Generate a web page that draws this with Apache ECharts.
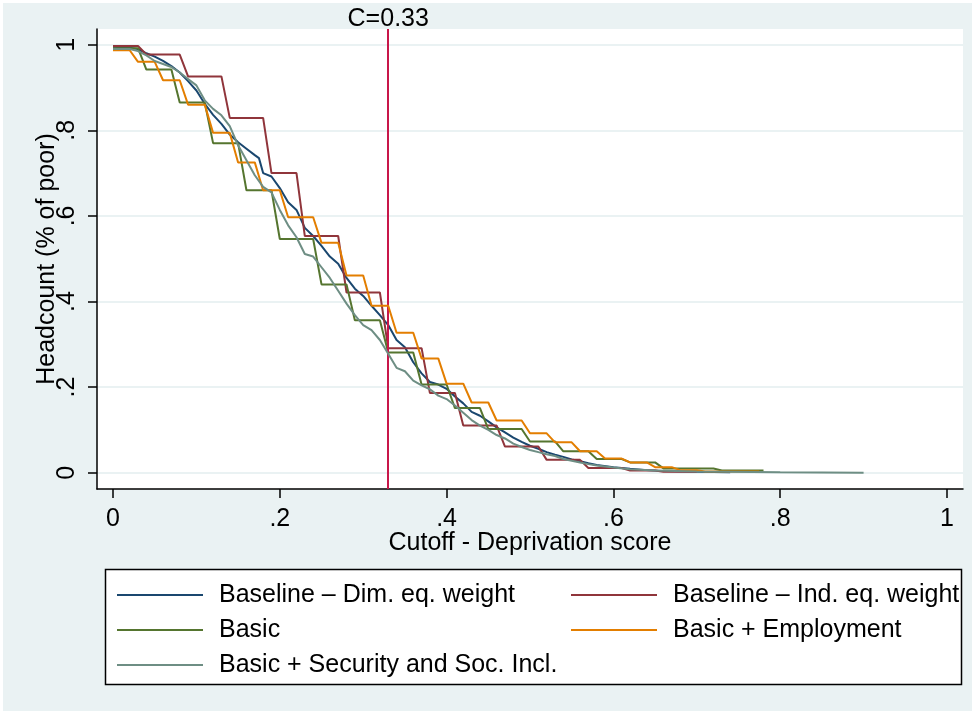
<!DOCTYPE html>
<html>
<head>
<meta charset="utf-8">
<script src="https://cdn.jsdelivr.net/npm/echarts@6/dist/echarts.min.js"></script>
<style>html,body{margin:0;padding:0;background:#EAF2F3;}#chart{width:975px;height:714px;}</style>
</head>
<body>
<div id="chart"></div>
<script>
// ---- tick values / labels ----
const xTickValues = [0, 0.2, 0.4, 0.6, 0.8, 1];
const xTickLabels = ['0', '.2', '.4', '.6', '.8', '1'];
const yTickValues = [0, 0.2, 0.4, 0.6, 0.8, 1];
const yTickLabels = ['0', '.2', '.4', '.6', '.8', '1'];
const cutoffValue = 0.33;
const cutoffLabel = 'C=0.33';

const seriesNames = [
  'Baseline \u2013 Dim. eq. weight',
  'Baseline \u2013 Ind. eq. weight',
  'Basic',
  'Basic + Employment',
  'Basic + Security and Soc. Incl.'
];

// ---- series values: [cutoff, headcount] ----
const baselineDim = [
  [0,0.995],[0.02,0.993],[0.03,0.99],[0.04,0.98],[0.05,0.972],[0.06,0.962],[0.07,0.95],[0.08,0.935],
  [0.09,0.915],[0.10,0.893],[0.11,0.862],[0.12,0.836],[0.13,0.815],[0.14,0.79],[0.15,0.772],[0.16,0.757],
  [0.17,0.742],[0.175,0.735],[0.18,0.70],[0.19,0.692],[0.20,0.665],[0.21,0.632],[0.22,0.614],[0.23,0.572],
  [0.24,0.553],[0.25,0.53],[0.26,0.505],[0.27,0.488],[0.28,0.455],[0.29,0.43],[0.30,0.413],[0.31,0.39],
  [0.32,0.368],[0.33,0.345],[0.34,0.31],[0.35,0.293],[0.36,0.258],[0.37,0.232],[0.38,0.212],[0.39,0.206],
  [0.40,0.196],[0.41,0.178],[0.42,0.162],[0.43,0.142],[0.44,0.133],[0.45,0.12],[0.46,0.106],[0.47,0.094],
  [0.48,0.082],[0.49,0.072],[0.50,0.063],[0.51,0.056],[0.52,0.048],[0.53,0.042],[0.54,0.037],[0.55,0.031],
  [0.56,0.027],[0.57,0.022],[0.58,0.018],[0.60,0.013],[0.62,0.009],[0.64,0.006],[0.66,0.004],[0.70,0.002],
  [0.74,0.001]
];
const baselineInd = [
  [0,0.997],[0.03,0.997],[0.04,0.977],[0.08,0.977],[0.09,0.926],[0.13,0.926],[0.14,0.829],[0.18,0.829],
  [0.19,0.70],[0.22,0.70],[0.23,0.553],[0.27,0.553],[0.28,0.421],[0.32,0.421],[0.33,0.291],[0.37,0.291],
  [0.38,0.186],[0.41,0.186],[0.42,0.11],[0.46,0.11],[0.47,0.061],[0.51,0.061],[0.52,0.03],[0.56,0.03],
  [0.57,0.011],[0.61,0.011],[0.62,0.005],[0.65,0.005],[0.66,0.002],[0.70,0.002]
];
const basic = [
  [0,0.992],[0.03,0.992],[0.04,0.942],[0.07,0.942],[0.08,0.865],[0.11,0.865],[0.12,0.77],[0.15,0.77],
  [0.16,0.66],[0.19,0.66],[0.20,0.546],[0.24,0.546],[0.25,0.44],[0.28,0.44],[0.29,0.356],[0.32,0.356],
  [0.33,0.281],[0.36,0.281],[0.37,0.206],[0.40,0.206],[0.41,0.151],[0.44,0.151],[0.45,0.102],[0.49,0.102],
  [0.50,0.073],[0.53,0.073],[0.54,0.05],[0.57,0.05],[0.58,0.032],[0.61,0.032],[0.62,0.024],[0.65,0.024],
  [0.66,0.01],[0.72,0.01],[0.73,0.005],[0.78,0.005]
];
const basicEmployment = [
  [0,0.987],[0.02,0.987],[0.03,0.96],[0.05,0.96],[0.06,0.917],[0.08,0.917],[0.09,0.86],[0.11,0.86],
  [0.12,0.794],[0.14,0.794],[0.15,0.725],[0.17,0.725],[0.18,0.66],[0.20,0.66],[0.21,0.597],[0.24,0.597],
  [0.25,0.537],[0.27,0.537],[0.28,0.461],[0.30,0.461],[0.31,0.39],[0.33,0.39],[0.34,0.327],[0.36,0.327],
  [0.37,0.267],[0.39,0.267],[0.40,0.208],[0.42,0.208],[0.43,0.164],[0.45,0.164],[0.46,0.122],[0.49,0.122],
  [0.50,0.092],[0.52,0.092],[0.53,0.071],[0.55,0.071],[0.56,0.05],[0.58,0.05],[0.59,0.033],[0.61,0.033],
  [0.62,0.024],[0.64,0.024],[0.65,0.013],[0.67,0.013],[0.68,0.006],[0.70,0.006],[0.71,0.003],[0.775,0.003]
];
const basicSecurity = [
  [0,0.99],[0.02,0.99],[0.03,0.985],[0.04,0.975],[0.05,0.962],[0.06,0.955],[0.07,0.948],[0.08,0.935],
  [0.09,0.92],[0.10,0.905],[0.11,0.87],[0.12,0.85],[0.13,0.835],[0.14,0.81],[0.15,0.765],[0.16,0.73],
  [0.17,0.695],[0.18,0.668],[0.19,0.655],[0.20,0.614],[0.21,0.578],[0.22,0.55],[0.23,0.511],[0.24,0.505],
  [0.25,0.48],[0.26,0.455],[0.27,0.425],[0.28,0.395],[0.29,0.368],[0.30,0.345],[0.31,0.333],[0.32,0.31],
  [0.33,0.278],[0.34,0.245],[0.35,0.237],[0.36,0.215],[0.37,0.204],[0.38,0.195],[0.39,0.18],[0.40,0.172],
  [0.41,0.157],[0.42,0.14],[0.43,0.123],[0.44,0.11],[0.45,0.1],[0.46,0.088],[0.47,0.08],[0.48,0.068],
  [0.49,0.06],[0.50,0.053],[0.51,0.048],[0.52,0.043],[0.53,0.039],[0.54,0.032],[0.55,0.028],[0.56,0.024],
  [0.57,0.02],[0.58,0.017],[0.60,0.012],[0.62,0.008],[0.65,0.005],[0.70,0.003],[0.80,0.001],[0.90,0.0]
];

const seriesData = [baselineDim, baselineInd, basic, basicEmployment, basicSecurity];
const seriesColors = ['#1a476f', '#90353b', '#55752f', '#e37e00', '#6e8e84'];

const FONT = '"Liberation Sans", Arial, sans-serif';
function lookupLabel(values, labels) {
  return function (v) {
    for (let i = 0; i < values.length; i++) if (Math.abs(values[i] - v) < 1e-6) return labels[i];
    return '';
  };
}

const chart = echarts.init(document.getElementById('chart'), null, {renderer: 'canvas'});
const series = seriesData.map((d, i) => ({
  name: seriesNames[i],
  type: 'line',
  data: d,
  symbol: 'none',
  showSymbol: false,
  animation: false,
  lineStyle: {color: seriesColors[i], width: 2},
  itemStyle: {color: seriesColors[i]},
  z: 2 + i
}));
series[series.length - 1].markLine = {
  silent: true,
  symbol: ['none', 'none'],
  animation: false,
  lineStyle: {color: '#C8174A', width: 2, type: 'solid'},
  label: {show: true, position: 'end', formatter: cutoffLabel, fontFamily: FONT, fontSize: 25, color: '#000', distance: -3},
  data: [{xAxis: cutoffValue}]
};

const legendCommon = {
  orient: 'vertical', top: 580, padding: 0,
  icon: 'rect', itemWidth: 86, itemHeight: 2, itemGap: 5, selectedMode: false,
  textStyle: {fontFamily: FONT, fontSize: 25, color: '#000', lineHeight: 30, padding: [0, 0, 0, 11]}
};

chart.setOption({
  backgroundColor: '#EAF2F3',
  animation: false,
  textStyle: {fontFamily: FONT},
  grid: {left: 97, right: 12, top: 29, bottom: 225, show: true, backgroundColor: '#ffffff', borderWidth: 0},
  xAxis: {
    type: 'value', min: -0.0192, max: 1.0192,
    name: 'Cutoff - Deprivation score', nameLocation: 'middle', nameGap: 42, nameMoveOverlap: false,
    nameTextStyle: {fontFamily: FONT, fontSize: 25, color: '#000'},
    axisLine: {show: true, onZero: false, lineStyle: {color: '#000', width: 1.5}},
    axisTick: {show: true, length: 9, customValues: xTickValues, lineStyle: {color: '#000', width: 1.5}},
    axisLabel: {show: true, customValues: xTickValues, formatter: lookupLabel(xTickValues, xTickLabels), margin: 18, fontFamily: FONT, fontSize: 25, color: '#000'},
    splitLine: {show: false}
  },
  yAxis: {
    type: 'value', min: -0.0381, max: 1.0367,
    name: 'Headcount (% of poor)', nameLocation: 'middle', nameGap: 37, nameRotate: 90, nameMoveOverlap: false,
    nameTextStyle: {fontFamily: FONT, fontSize: 25, color: '#000'},
    axisLine: {show: true, onZero: false, lineStyle: {color: '#000', width: 1.5}},
    axisTick: {show: true, length: 9, customValues: yTickValues, lineStyle: {color: '#000', width: 1.5}},
    axisLabel: {show: true, customValues: yTickValues, rotate: 90, formatter: lookupLabel(yTickValues, yTickLabels), margin: 17, fontFamily: FONT, fontSize: 25, color: '#000'},
    splitLine: {show: true, lineStyle: {color: '#EAF2F3', width: 2}}
  },
  legend: [
    Object.assign({}, legendCommon, {data: [seriesNames[0], seriesNames[2], seriesNames[4]], left: 117}),
    Object.assign({}, legendCommon, {data: [seriesNames[1], seriesNames[3]], left: 571})
  ],
  graphic: [
    {type: 'rect', z: 0, silent: true, shape: {x: 105.5, y: 569.5, width: 856, height: 115}, style: {fill: '#ffffff', stroke: '#000', lineWidth: 1.5}},
    {type: 'rect', z: 0, silent: true, shape: {x: 0, y: 0, width: 975, height: 714}, style: {fill: 'none', stroke: '#ffffff', lineWidth: 6}}
  ],
  series: series
});
</script>
</body>
</html>
